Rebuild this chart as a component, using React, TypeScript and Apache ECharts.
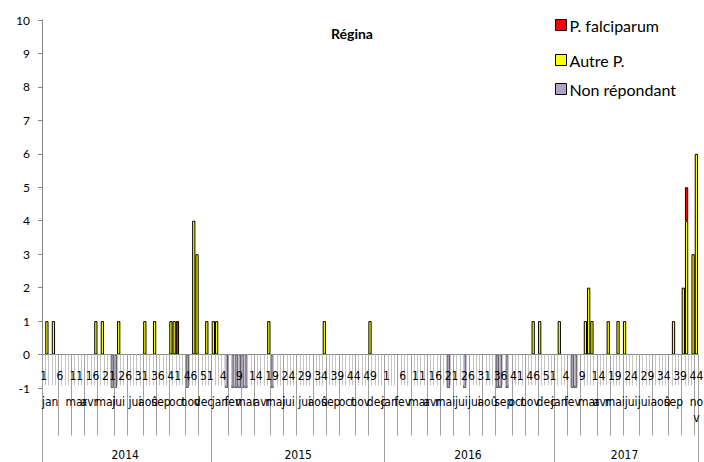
import React, { useEffect, useRef } from "react";
import * as echarts from "echarts";

// ---- axis structure ----
const years = ["2014", "2015", "2016", "2017"];
const weeksPerYear = [52, 53, 52, 44];
const monthNames = ["jan", "fev", "mar", "avr", "mai", "jui", "jui", "aoû", "sep", "oct", "nov", "dec"];
// first week of each month, per year
const monthStartWeeks: number[][] = [
  [1, 6, 10, 14, 18, 23, 27, 32, 36, 40, 45, 49],
  [1, 6, 10, 14, 19, 23, 27, 32, 36, 40, 45, 49],
  [1, 5, 9, 14, 18, 22, 27, 31, 35, 40, 44, 48],
  [1, 5, 9, 14, 18, 22, 27, 31, 36, 40, 44],
];

// ---- data: [year, week, cases] ----
const falciparum: [string, number, number][] = [
  ["2014", 42, 1],
  ["2017", 41, 1],
];
const autreP: [string, number, number][] = [
  ["2014", 2, 1], ["2014", 4, 1], ["2014", 17, 1], ["2014", 19, 1], ["2014", 24, 1],
  ["2014", 32, 1], ["2014", 35, 1], ["2014", 40, 1], ["2014", 41, 1], ["2014", 47, 4],
  ["2014", 48, 3], ["2014", 51, 1],
  ["2015", 1, 1], ["2015", 2, 1], ["2015", 18, 1], ["2015", 35, 1], ["2015", 49, 1],
  ["2016", 46, 1], ["2016", 48, 1],
  ["2017", 2, 1], ["2017", 10, 1], ["2017", 11, 2], ["2017", 12, 1], ["2017", 17, 1],
  ["2017", 20, 1], ["2017", 22, 1], ["2017", 37, 1], ["2017", 40, 2], ["2017", 41, 4],
  ["2017", 43, 3], ["2017", 44, 6],
];
const nonRepondant: [string, number, number][] = [
  ["2014", 22, -1], ["2014", 23, -1], ["2014", 45, -1],
  ["2015", 5, -1], ["2015", 7, -1], ["2015", 8, -1], ["2015", 9, -1], ["2015", 10, -1],
  ["2015", 11, -1], ["2015", 19, -1],
  ["2016", 20, -1], ["2016", 25, -1], ["2016", 35, -1], ["2016", 36, -1], ["2016", 38, -1],
  ["2017", 6, -1], ["2017", 7, -1],
];

const FONT = "Lato, 'Noto Sans', sans-serif";
const NARROW = "'Liberation Sans Narrow', 'DejaVu Sans Condensed', Lato, sans-serif";

const GRID_TOP = 20;
const GRID_BOTTOM = 74;
const Y_MIN = -1;
const Y_MAX = 10;

export default function App() {
  const ref = useRef<HTMLDivElement>(null);
  useEffect(() => {
    if (!ref.current) return;
    const chart = echarts.init(ref.current, undefined, { renderer: "svg" });

    const offsets: number[] = [];
    let total = 0;
    weeksPerYear.forEach((n) => { offsets.push(total); total += n; });
    const categories: string[] = [];
    weeksPerYear.forEach((n) => { for (let w = 1; w <= n; w++) categories.push(String(w)); });
    const idxOf = (y: string, w: number) => offsets[years.indexOf(y)] + w - 1;
    const fill = (list: [string, number, number][]) => {
      const arr: (number | string)[] = categories.map(() => "-");
      list.forEach(([y, w, v]) => { arr[idxOf(y, w)] = v; });
      return arr;
    };

    // month boundaries and label positions
    const monthStartSet = new Set<number>();
    const monthLabelAt: Record<number, string> = {};
    monthStartWeeks.forEach((starts, yi) => {
      starts.forEach((w, mi) => {
        const s = offsets[yi] + w - 1;
        const e = mi + 1 < starts.length ? offsets[yi] + starts[mi + 1] - 1 : offsets[yi] + weeksPerYear[yi];
        monthStartSet.add(s);
        const len = e - s;
        const isLastShort = yi === years.length - 1 && mi === starts.length - 1 && len === 1;
        monthLabelAt[s + Math.floor((len - 1) / 2)] = isLastShort ? "no\nv" : monthNames[mi];
      });
    });
    const yearStartSet = new Set<number>(offsets);
    const yearLabelAt: Record<number, string> = {};
    years.forEach((y, yi) => { yearLabelAt[offsets[yi] + Math.floor((weeksPerYear[yi] - 1) / 2)] = y; });

    // distance from grid bottom (y = Y_MIN) up to the zero line
    const plotH = 462 - GRID_TOP - GRID_BOTTOM;
    const zeroLift = (plotH * (0 - Y_MIN)) / (Y_MAX - Y_MIN);

    const baseX = {
      type: "category" as const,
      data: categories,
      gridIndex: 0,
      position: "bottom" as const,
      z: 3,
    };
    const tickAxis = (interval: any, length: number, color: string, showLine = false) => ({
      ...baseX,
      axisLine: { show: showLine, onZero: true, onZeroAxisIndex: 0, lineStyle: { color: "#868686" } },
      axisTick: { show: true, interval, length, lineStyle: { color } },
      axisLabel: { show: false },
    });
    const labelAxis = (interval: any, formatter: any, margin: number, extra: any = {}) => ({
      ...baseX,
      offset: -zeroLift,
      axisLine: { show: false, onZero: false },
      axisTick: { show: false },
      axisLabel: {
        interval,
        formatter,
        margin,
        fontFamily: NARROW,
        fontSize: 12,
        color: "#000",
        showMinLabel: true,
        showMaxLabel: true,
        hideOverlap: false,
        ...extra,
      },
    });

    chart.setOption({
      animation: false,
      title: {
        text: "Régina",
        left: 331,
        top: 26,
        padding: 0,
        textStyle: { fontFamily: FONT, fontSize: 14, fontWeight: "bold", color: "#000" },
      },
      legend: [
        { data: ["P. falciparum"], left: 555, top: 17 },
        { data: ["Autre P."], left: 555, top: 52 },
        { data: ["Non répondant"], left: 555, top: 81 },
      ].map((l) => ({
        ...l,
        orient: "vertical",
        padding: 0,
        itemWidth: 11,
        itemHeight: 11,
        itemGap: 0,
        icon: "rect",
        selectedMode: false,
        itemStyle: { borderColor: "#000", borderWidth: 1 },
        textStyle: { fontFamily: FONT, fontSize: 16, color: "#000", padding: [0, 0, 0, -2] },
      })),
      grid: { left: 42, right: 6, top: GRID_TOP, bottom: GRID_BOTTOM, containLabel: false, outerBoundsMode: "none" },
      yAxis: {
        type: "value",
        min: Y_MIN,
        max: Y_MAX,
        interval: 1,
        axisLine: { show: true, lineStyle: { color: "#868686" } },
        axisTick: { show: true, length: 4, lineStyle: { color: "#868686" } },
        splitLine: { show: false },
        axisLabel: { fontFamily: FONT, fontSize: 12, color: "#000", margin: 12 },
      },
      xAxis: [
        tickAxis(0, 31, "#c4c4c4", true),
        labelAxis(4, (v: string) => v, 15),
        tickAxis((i: number) => monthStartSet.has(i), 81, "#a0a0a0"),
        labelAxis(
          (i: number) => monthLabelAt[i] !== undefined,
          (_v: string, i: number) => monthLabelAt[i] ?? "",
          39,
          { lineHeight: 16 }
        ),
        tickAxis((i: number) => yearStartSet.has(i), 110, "#a0a0a0"),
        labelAxis(
          (i: number) => yearLabelAt[i] !== undefined,
          (_v: string, i: number) => yearLabelAt[i] ?? "",
          94
        ),
      ],
      series: [
        {
          name: "Autre P.",
          type: "bar",
          stack: "total",
          xAxisIndex: 0,
          barCategoryGap: "0%",
          data: fill(autreP),
          itemStyle: { color: "#FFFF00", borderColor: "#000", borderWidth: 1 },
        },
        {
          name: "P. falciparum",
          type: "bar",
          stack: "total",
          xAxisIndex: 0,
          barCategoryGap: "0%",
          data: fill(falciparum),
          itemStyle: { color: "#FF0000", borderColor: "#000", borderWidth: 1 },
        },
        {
          name: "Non répondant",
          type: "bar",
          stack: "total",
          xAxisIndex: 0,
          barCategoryGap: "0%",
          data: fill(nonRepondant),
          itemStyle: { color: "#B3A2C7", borderColor: "#5a5a5a", borderWidth: 1 },
        },
      ],
    });
    return () => chart.dispose();
  }, []);
  return (
    <div
      ref={ref}
      style={{ position: "fixed", left: 0, top: 0, width: 704, height: 462, background: "#fff" }}
    />
  );
}
